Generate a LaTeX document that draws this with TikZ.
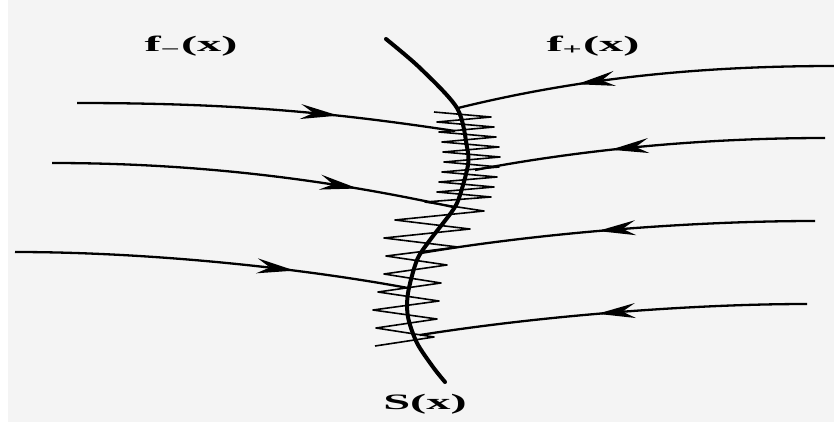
\documentclass[tikz,border=0pt]{standalone}
\usepackage{fontspec}
\setmainfont{Liberation Serif}
\usetikzlibrary{arrows.meta,decorations.markings}
\definecolor{bg}{HTML}{F4F4F4}
\begin{document}
\begin{tikzpicture}[x=1pt,y=-1pt,
  flow/.style={line width=2.3pt, black},
  arr/.style={postaction={decorate}, decoration={markings, mark=at position #1 with {\arrow{Stealth[length=38pt,width=15pt,inset=13pt]}}}},
  lab/.style={inner sep=0pt, font=\fontsize{22}{26}\selectfont\bfseries},
  zig/.style={line width=1.6pt, line join=round},
  front/.style={line width=4pt, line cap=round}]
\useasboundingbox (0,0) rectangle (834,424);
\fill[white] (0,0) rectangle (834,424);
\fill[bg] (8,0) rectangle (834,422);

% shock front S(x)
\draw[front] plot[smooth] coordinates {(386,39) (420,68) (457,108) (467,147) (468,165) (460,195) (453,210) (430,240) (417,260) (408,293) (408,317) (417,343) (433,367) (445,382)};

% zigzag
\draw[zig] plot coordinates {(434,112) (491,117) (437,122) (494,127) (439,132) (496,137) (442,142) (499,147) (443,152) (500,157) (444,162) (499,167) (442,172) (497,177) (439,182) (494,187) (437,192) (491,197) (425,202) (484,211) (395,220) (470,229) (384,238) (458,247) (386,256) (447,265) (384,274) (441,283) (378,292) (439,301) (373,310) (437,319) (376,328) (434,337) (375,346)};

% end points
\coordinate (l1s) at (77,103);  \coordinate (l1e) at (455,131);
\coordinate (l2s) at (52,163);  \coordinate (l2e) at (453,207);
\coordinate (l3s) at (15,252);  \coordinate (l3e) at (408,288);
\coordinate (r1s) at (834,66);  \coordinate (r1e) at (458,108);
\coordinate (r2s) at (825,138); \coordinate (r2e) at (475,170);
\coordinate (r3s) at (815,221); \coordinate (r3e) at (421,253);
\coordinate (r4s) at (807,304); \coordinate (r4e) at (420,335);

% left characteristics
\draw[flow, arr=0.69] (l1s) .. controls (230,103) and (330,112) .. (l1e);
\draw[flow, arr=0.76] (l2s) .. controls (200,163) and (330,180) .. (l2e);
\draw[flow, arr=0.71] (l3s) .. controls (150,252) and (300,268) .. (l3e);

% right characteristics
\draw[flow, arr=0.68] (r1s) .. controls (700,66) and (580,78) .. (r1e);
\draw[flow, arr=0.61] (r2s) .. controls (700,138) and (580,150) .. (r2e);
\draw[flow, arr=0.55] (r3s) .. controls (690,221) and (540,233) .. (r3e);
\draw[flow, arr=0.54] (r4s) .. controls (690,304) and (540,316) .. (r4e);

% labels
\node[lab] (fm) at (191,46) {\scalebox{2.2}[1]{f\textsubscript{−}(x)}};
\node[lab] (fp) at (593,46) {\scalebox{2.2}[1]{f\textsubscript{+}(x)}};
\node[lab] (sx) at (425,404) {\scalebox{2.2}[1]{S(x)}};
\end{tikzpicture}
\end{document}
